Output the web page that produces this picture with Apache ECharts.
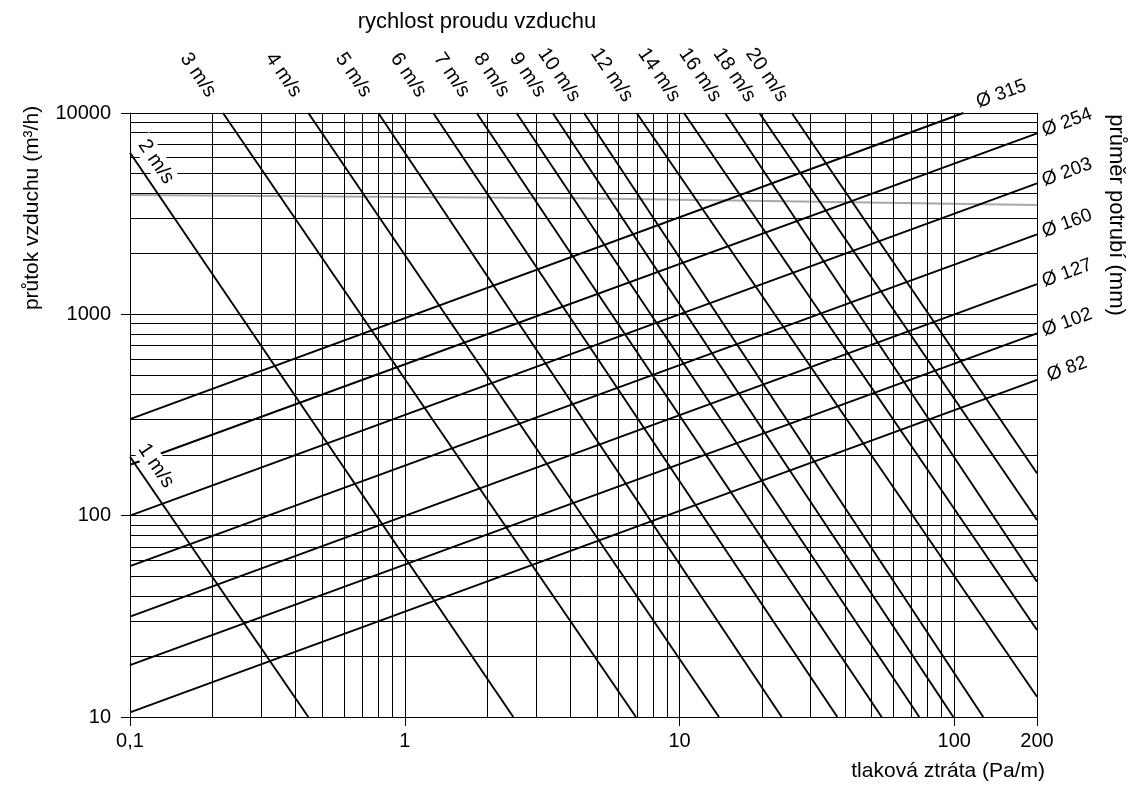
<!DOCTYPE html>
<html><head><meta charset="utf-8">
<script src="https://cdn.jsdelivr.net/npm/echarts@6/dist/echarts.min.js"></script>
<style>html,body{margin:0;padding:0;background:#fff}#c{width:1139px;height:794px}</style>
</head><body><div id="c"></div>
<script>
// ---- data ----
const xTicks = [0.1, 1, 10, 100, 200];
const yTicks = [10, 100, 1000, 10000];
const xGrid = [0.1,0.2,0.3,0.4,0.5,0.6,0.7,0.8,0.9,1,2,3,4,5,6,7,8,9,10,20,30,40,50,60,70,80,90,100,200];
const yGrid = [10,20,30,40,50,60,70,80,90,100,200,300,400,500,600,700,800,900,1000,2000,3000,4000,5000,6000,7000,8000,9000,10000];

const velocityLabels = ['1 m/s','2 m/s','3 m/s','4 m/s','5 m/s','6 m/s','7 m/s','8 m/s','9 m/s','10 m/s','12 m/s','14 m/s','16 m/s','18 m/s','20 m/s'];
// each line: two points [pressure loss Pa/m, flow m3/h]
const velocityLines = [
  [[0.1, 196], [0.4457, 10]],
  [[0.1, 6350], [2.483, 10]],
  [[0.218, 10000], [6.94, 10]],
  [[0.4457, 10000], [13.92, 10]],
  [[0.8012, 10000], [23.54, 10]],
  [[1.270, 10000], [37.53, 10]],
  [[1.827, 10000], [54.42, 10]],
  [[2.551, 10000], [74.6, 10]],
  [[3.454, 10000], [99.2, 10]],
  [[4.491, 10000], [127.5, 10]],
  [[6.983, 10000], [200, 12.61]],
  [[10.38, 10000], [200, 27.05]],
  [[14.64, 10000], [200, 46.99]],
  [[19.52, 10000], [200, 95.2]],
  [[25.61, 10000], [200, 162.3]]
];

const diameterLabels = ['Ø 315','Ø 254','Ø 203','Ø 160','Ø 127','Ø 102','Ø 82'];
const diameterLines = [
  [[0.1, 302], [107.9, 10000]],
  [[0.1, 179], [200, 7927]],
  [[0.1, 100], [200, 4477]],
  [[0.1, 56.2], [200, 2496]],
  [[0.1, 31.5], [200, 1414]],
  [[0.1, 18.1], [200, 805]],
  [[0.1, 10.55], [200, 472]]
];

const grayLine = [[0.1, 3914], [4.34, 3768], [200, 3491]];

const titleTop = 'rychlost proudu vzduchu';
const yName = 'průtok vzduchu (m³/h)';
const xName = 'tlaková ztráta (Pa/m)';
const rightName = 'průměr potrubí (mm)';

// ---- chart ----
const FONT = '"Liberation Sans", Arial, Helvetica, sans-serif';
const chart = echarts.init(document.getElementById('c'), null, {renderer: 'canvas'});

const series = [];
series.push({
  type: 'line', data: [], silent: true, z: 1,
  markLine: {
    silent: true, symbol: ['none','none'], animation: false,
    label: {show: false},
    lineStyle: {color: '#000', width: 1, type: 'solid'},
    emphasis: {disabled: true},
    data: xGrid.map(v => ({xAxis: v})).concat(yGrid.map(v => ({yAxis: v})))
  }
});
velocityLines.forEach(l => series.push({
  type: 'line', data: l, symbol: 'none', silent: true, z: 3, animation: false,
  lineStyle: {color: '#000', width: 1.9}
}));
diameterLines.forEach(l => series.push({
  type: 'line', data: l, symbol: 'none', silent: true, z: 3, animation: false,
  lineStyle: {color: '#000', width: 1.9}
}));
series.push({
  type: 'line', data: grayLine, symbol: 'none', silent: true, z: 2, animation: false,
  lineStyle: {color: '#a8a8a8', width: 2}
});

chart.setOption({
  backgroundColor: '#fff',
  animation: false,
  textStyle: {fontFamily: FONT},
  grid: {left: 130, top: 113, right: 102, bottom: 77, containLabel: false},
  xAxis: {
    type: 'log', logBase: 10, min: 0.1, max: 200,
    axisLine: {show: true, lineStyle: {color: '#000', width: 1}},
    axisTick: {show: true, customValues: xTicks, length: 9, lineStyle: {color: '#000', width: 1}},
    axisLabel: {show: true, customValues: xTicks, color: '#000', fontSize: 20, fontFamily: FONT, margin: 14,
      formatter: v => String(v).replace('.', ',')},
    splitLine: {show: false}, minorTick: {show: false}, minorSplitLine: {show: false}
  },
  yAxis: {
    type: 'log', logBase: 10, min: 10, max: 10000,
    axisLine: {show: true, lineStyle: {color: '#000', width: 1}},
    axisTick: {show: true, customValues: yTicks, length: 9, lineStyle: {color: '#000', width: 1}},
    axisLabel: {show: true, customValues: yTicks, color: '#000', fontSize: 20, fontFamily: FONT, margin: 19,
      formatter: v => String(v)},
    splitLine: {show: false}, minorTick: {show: false}, minorSplitLine: {show: false}
  },
  series: series
});

// ---- labels placed relative to the lines ----
const toPx = p => chart.convertToPixel({xAxisIndex: 0, yAxisIndex: 0}, p);
const graphics = [];
const txt = (x, y, text, rot, size, extra) => graphics.push({
  type: 'text', x: x, y: y, rotation: rot, z: 10, silent: true,
  style: Object.assign({text: text, fill: '#000', font: size + 'px ' + FONT, align: 'center', verticalAlign: 'middle'}, extra || {})
});
const vRot = -Math.atan(1.465);
const dRot = Math.atan(0.366);

velocityLines.forEach((l, i) => {
  const p = toPx(l[0]);
  if (i < 2) {
    txt(p[0] + 26, p[1] + 9, velocityLabels[i], vRot, 20, {backgroundColor: '#fff', padding: [1, 4]});
  } else {
    txt(p[0] - 25, p[1] - 38, velocityLabels[i], vRot, 20);
  }
});
diameterLines.forEach((l, i) => {
  const p = toPx(l[1]);
  if (i === 0) txt(p[0] + 38, p[1] - 19, diameterLabels[i], dRot, 19);
  else txt(p[0] + 30, p[1] - 11, diameterLabels[i], dRot, 19);
});
txt(477, 22, titleTop, 0, 22);
txt(32, 208, yName, Math.PI / 2, 21);
txt(1116, 215, rightName, -Math.PI / 2, 22);
graphics.push({type: 'text', x: 1045, y: 771, z: 10, silent: true,
  style: {text: xName, fill: '#000', font: '21px ' + FONT, align: 'right', verticalAlign: 'middle'}});

chart.setOption({graphic: graphics});
</script>
</body></html>
